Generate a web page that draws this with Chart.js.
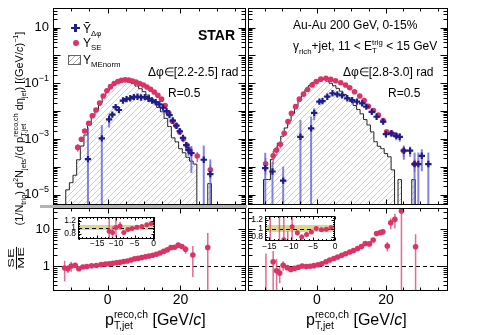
<!DOCTYPE html>
<html>
<head>
<meta charset="utf-8">
<script src="https://cdn.jsdelivr.net/npm/chart.js@4.4.1/dist/chart.umd.min.js"></script>
<style>
  body { margin: 0; background: #fff; }
  #fig { position: relative; width: 486px; height: 335px; overflow: hidden; font-family: "Liberation Sans", Arial, sans-serif; color: #000; }
  #fig canvas { position: absolute; left: 0; top: 0; }
  .t { position: absolute; white-space: nowrap; line-height: 1; font-size: 12px; }
  .t sub, .t sup { font-size: 65%; line-height: 0; }
  .st { display: inline-block; vertical-align: middle; font-size: 65%; line-height: 1.05; text-align: left; }
  .st span { display: block; }
  .mk { position: absolute; }
</style>
</head>
<body>
<div id="fig">
  <canvas id="topL" width="486" height="335"></canvas>
  <canvas id="topR" width="486" height="335"></canvas>
  <canvas id="ratL" width="486" height="335"></canvas>
  <canvas id="ratR" width="486" height="335"></canvas>
  <canvas id="insL" width="486" height="335"></canvas>
  <canvas id="insR" width="486" height="335"></canvas>

  <div class="mk" style="left:40px;top:205px;width:207px;height:3px;background:#b4b4b4"></div>

  <!-- legend -->
  <div class="mk" style="left:71px;top:26.8px;width:9px;height:2.4px;background:#1c1c8c"></div>
  <div class="mk" style="left:74.3px;top:23.7px;width:2.4px;height:8.6px;background:#1c1c8c"></div>
  <div class="mk" style="left:72.5px;top:40px;width:6px;height:6px;border-radius:50%;background:#dc3264"></div>
  <div class="mk" style="left:68px;top:55px;width:11px;height:8px;border:1px solid #666;background:repeating-linear-gradient(135deg,#aaa 0 0.8px,#fff 0.8px 4px)"></div>
  <div class="t" style="left:83px;top:22.5px">Ỹ<sub>Δφ</sub></div>
  <div class="t" style="left:83px;top:37px">Y<sub>SE</sub></div>
  <div class="t" style="left:83px;top:54px">Y<sub>MEnorm</sub></div>

  <div class="t" style="left:198px;top:28px;font-size:14px;font-weight:bold">STAR</div>
  <div class="t" style="left:148px;top:65.5px">Δφ∈[2.2-2.5] rad</div>
  <div class="t" style="left:168px;top:86.5px">R=0.5</div>

  <div class="t" style="left:293px;top:18.5px">Au-Au 200 GeV, 0-15%</div>
  <div class="t" style="left:293px;top:38.5px">γ<sub>rich</sub>+jet, 11 &lt; E<span class="st"><span>trig</span><span>T</span></span> &lt; 15 GeV</div>
  <div class="t" style="left:343px;top:65.5px">Δφ∈[2.8-3.0] rad</div>
  <div class="t" style="left:388px;top:86.5px">R=0.5</div>

  <!-- axis titles -->
  <div class="t" style="left:-100px;top:121px;width:240px;text-align:center;font-size:11px;transform:rotate(-90deg)">(1/N<sub>trig</sub>) d<sup>2</sup>N<sub>jets</sub>/(d p<span class="st"><span>reco,ch</span><span>T,jet</span></span> dη<sub>jet</sub>) [(GeV/<i>c</i>)<sup>−1</sup>]</div>
  <div class="t" style="left:9px;top:248.5px;width:14px;text-align:center;font-size:9px;line-height:0.95;transform:rotate(-90deg) scaleX(1.6)"><div style="border-bottom:1px solid #000">SE</div><div>ME</div></div>
  <div class="t" style="left:105px;top:310px;font-size:16px">p<span class="st"><span>reco,ch</span><span>T,jet</span></span> [GeV/<i>c</i>]</div>
  <div class="t" style="left:306px;top:310px;font-size:16px">p<span class="st"><span>reco,ch</span><span>T,jet</span></span> [GeV/<i>c</i>]</div>
</div>

<script>
// ---- Δφ ∈ [2.2-2.5] (left) ----
const leftSeX = [-8.2,-7.2,-6.3,-5.2,-4.2,-3.2,-2.2,-1.2,-0.2,0.8,1.8,2.8,3.8,4.8,5.8,6.8,7.8,8.8,9.8,10.8,11.8,12.8,13.8,14.8,15.8,16.8,17.8,18.8,19.8,20.8,21.8,22.6,24.6,28.2];
const leftSeY = [5.0e-4,9.8e-4,1.95e-3,3.7e-3,6.8e-3,1.1e-2,1.95e-2,3.5e-2,5.4e-2,7.6e-2,9.8e-2,0.115,0.128,0.133,0.130,0.121,0.110,0.098,0.087,0.074,0.061,0.049,0.037,0.027,0.016,8.5e-3,4.3e-3,3.0e-3,1.8e-3,1.0e-3,6.0e-4,4.0e-4,2.45e-4,7.8e-5];
const leftSeErr = [1.5e-4,2e-4,2.5e-4,3e-4,4e-4,5e-4,6e-4,8e-4,1e-3,1.2e-3,1.4e-3,1.5e-3,1.6e-3,1.6e-3,1.6e-3,1.5e-3,1.4e-3,1.3e-3,1.2e-3,1.1e-3,1e-3,9e-4,8e-4,6e-4,5e-4,4e-4,3e-4,4e-4,3e-4,2.5e-4,1.5e-4,1.2e-4,1.0e-4,4e-5];

const leftDphiX = [-5.4,-1.6,0.4,1.3,2.2,3.1,4.2,5.2,6.2,7.2,8.2,9.2,10.2,11.2,12.2,13.2,14.2,15.2,16.2,17.0,17.9,18.9,19.8,20.7,21.6,22.2,23.0,26.4,28.2];
const leftDphiY = [1.9e-4,1.05e-3,5.1e-3,7.5e-3,1.4e-2,1.1e-2,2.4e-2,2.7e-2,2.9e-2,3.2e-2,3.3e-2,3.1e-2,3.2e-2,2.8e-2,2.4e-2,2.1e-2,1.75e-2,1.35e-2,1.0e-2,7.2e-3,4.6e-3,3.0e-3,1.9e-3,1.1e-3,6.0e-4,4.0e-4,3.1e-4,1.8e-4,5.5e-5];
const leftDphiErr = [2.3e-3,2.1e-3,2.5e-3,1.5e-3,2.0e-3,1.5e-3,2.5e-3,2e-3,2e-3,2e-3,2e-3,2e-3,2e-3,1.8e-3,1.6e-3,1.4e-3,1.2e-3,1e-3,8e-4,7e-4,6e-4,5e-4,4e-4,3e-4,2e-4,1.5e-4,2.5e-4,4e-4,1.3e-4];

const leftMeX = [-12,-11,-10,-9,-8,-7,-6,-5,-4,-3,-2,-1,0,1,2,3,4,5,6,7,8,9,10,11,12,13,14,15,16,17,18,19,20,21,22,23,24,25,26,27,28,29];
const leftMeY = [1e-9,1.5e-5,2.7e-5,5.0e-5,1.8e-4,5.6e-4,1.4e-3,3.2e-3,6.3e-3,1.1e-2,2.0e-2,3.5e-2,5.6e-2,7.9e-2,0.100,0.117,0.126,0.123,0.112,0.098,0.080,0.064,0.050,0.038,0.028,0.020,0.0135,9.5e-3,5.5e-3,2.8e-3,1.1e-3,7.9e-4,4.5e-4,3.2e-4,2.2e-4,1.6e-4,1.26e-4,1e-9,1e-9,1e-9,2.5e-5,1e-9];

// ---- Δφ ∈ [2.8-3.0] (right) ----
const rightSeX = [-14.9,-12.7,-11.7,-10.6,-9.5,-8.4,-7.4,-6.2,-5.1,-3.9,-2.7,-1.4,-0.2,1.1,2.6,4.0,5.4,6.9,8.3,9.5,10.9,12.4,13.7,14.9,16.4,17.8,19.2,20.2,21.6,22.7,25.1,28.3];
const rightSeY = [1.3e-4,2.5e-4,4.0e-4,6.5e-4,1.6e-3,4.2e-3,8.3e-3,1.45e-2,2.7e-2,4.1e-2,6.0e-2,8.7e-2,0.115,0.141,0.151,0.138,0.123,0.105,0.087,0.069,0.050,0.035,0.024,0.015,0.0105,7.2e-3,4.6e-3,1.8e-3,1.6e-3,1.4e-3,3.8e-4,1.26e-4];
const rightSeErr = [8e-5,1.2e-4,1.5e-4,2e-4,3e-4,4e-4,5e-4,6e-4,8e-4,1e-3,1.2e-3,1.5e-3,1.6e-3,1.6e-3,1.6e-3,1.6e-3,1.5e-3,1.4e-3,1.3e-3,1.2e-3,1e-3,9e-4,8e-4,6e-4,5e-4,4e-4,3e-4,3e-4,3e-4,2.5e-4,1.5e-4,6e-5];

const rightDphiX = [-15.0,-12.9,-9.8,-4.8,-1.7,-0.8,0.7,1.6,3.0,4.5,5.9,7.3,8.8,10.2,11.6,13.1,14.3,15.9,17.3,19.2,20.0,21.6,23.0,24.0,25.2,27.0,28.3,29.4,30.4,32.3];
const rightDphiY = [9e-5,6.8e-5,3.2e-5,1.2e-3,2.4e-3,8.7e-3,2.2e-2,2.3e-2,3.3e-2,4.4e-2,4.0e-2,3.7e-2,2.9e-2,2.5e-2,2.2e-2,1.9e-2,1.45e-2,9.5e-3,6.3e-3,4.2e-3,1.5e-3,1.6e-3,1.3e-3,1.2e-3,3.8e-4,3.8e-4,1.26e-4,1.26e-4,2.5e-4,1.26e-4];
const rightDphiErr = [2.3e-4,8e-5,7e-5,3.6e-3,4e-3,4e-3,3e-3,2.5e-3,2.5e-3,2.5e-3,2.2e-3,2e-3,1.8e-3,1.6e-3,1.4e-3,1.2e-3,1e-3,8e-4,6e-4,5e-4,4e-4,4e-4,4e-4,4e-4,2e-4,1.5e-4,2e-4,2e-4,1.8e-4,2e-4];

const rightMeX = [-16,-15,-14,-13,-12,-11,-10,-9,-8,-7,-6,-5,-4,-3,-2,-1,0,1,2,3,4,5,6,7,8,9,10,11,12,13,14,15,16,17,18,19,20,21,22,23,24,25,26,27,28,29];
const rightMeY = [1e-9,3.5e-5,3.5e-5,1.86e-4,4.3e-4,7.1e-4,1.26e-3,2.5e-3,4.5e-3,8.3e-3,1.48e-2,2.5e-2,4.0e-2,6.0e-2,8.3e-2,0.108,0.128,0.140,0.137,0.120,0.100,0.082,0.066,0.052,0.040,0.030,0.022,0.016,0.0115,8.0e-3,5.0e-3,3.2e-3,1.8e-3,8.0e-4,5.5e-4,4.5e-4,3.0e-4,2.3e-4,7.8e-5,1e-9,3.5e-5,1e-9,1e-9,1e-9,3.5e-5,1e-9];

// ---- SE/ME ratios ----
const leftRatioX = [-11.8,-10.9,-10.0,-8.9,-7.9,-6.8,-5.7,-4.4,-3.1,-1.8,-0.6,0.4,1.4,2.4,3.4,4.4,5.4,6.4,7.4,8.4,9.4,10.4,11.4,12.4,13.4,14.4,15.4,16.4,17.4,18.4,19.4,20.4,21.4,23.4,27.5];
const leftRatioY = [0.88,0.84,1.0,1.05,0.84,0.94,0.97,1.01,1.03,1.09,1.13,1.15,1.18,1.22,1.27,1.32,1.37,1.45,1.58,1.63,1.7,1.78,1.86,1.96,2.08,2.25,2.5,2.75,3.2,3.25,3.7,3.4,2.85,2.0,3.2];
const leftRatioErr = [0.5,0.2,0.3,0.12,0.05,0.06,0.05,0.04,0.04,0.04,0.04,0.03,0.03,0.03,0.03,0.03,0.03,0.04,0.04,0.04,0.05,0.05,0.05,0.06,0.07,0.08,0.1,0.3,0.5,0.4,0.6,0.5,0.7,1.5,4.7];

const rightRatioX = [-14.8,-12.7,-11.7,-10.8,-9.8,-8.6,-7.6,-6.5,-5.4,-4.3,-3.1,-2.0,-0.9,0.3,1.4,2.6,3.7,4.9,6.0,7.2,8.3,9.5,10.6,11.8,12.9,14.0,15.2,16.3,17.3,18.4,19.1,20.4,21.4,22.6,24.5,28.6];
const rightRatioY = [0.1,1.31,0.74,0.64,1.04,0.9,0.8,0.86,0.92,1.0,0.97,0.98,1.02,1.08,1.15,1.3,1.45,1.6,1.75,1.95,2.15,2.4,2.65,3.0,3.4,4.1,4.0,5.1,7.7,8.1,8.6,3.5,15,18.6,31.6,3.36];
const rightRatioErr = [2.1,1.25,0.8,0.3,0.3,0.07,0.06,0.05,0.04,0.04,0.04,0.04,0.04,0.04,0.04,0.05,0.05,0.06,0.06,0.07,0.08,0.1,0.1,0.12,0.15,0.2,0.2,0.4,1.2,1.0,1.5,1.0,5,8,40,4];

// tick labels
const topTickVals = [10, 1e-1, 1e-3, 1e-5];
const topTickExps = ['', '−1', '−3', '−5'];
const ratioTickVals = [1, 10];
const xTickVals = [0, 20];
const insetXTickVals = [-15, -10, -5, 0];
const insetYTickVals = [0.8, 1, 1.2];
const insetBand = [0.92, 1.08];

const RED = '#dc3264', RED_ERR = 'rgba(222,80,125,0.85)';
const BLUE = '#1c1c8c', BLUE_ERR = 'rgba(90,90,215,0.75)';

Chart.defaults.font.family = '"Liberation Sans", Arial, sans-serif';

// diagonal hatch for the mixed-event histogram
function makeHatch() {
    const c = document.createElement('canvas');
    c.width = 6; c.height = 6;
    const g = c.getContext('2d');
    g.strokeStyle = '#b9b9b9';
    g.lineWidth = 0.7;
    g.beginPath();
    g.moveTo(0, 6); g.lineTo(6, 0);
    g.moveTo(-1, 1); g.lineTo(1, -1);
    g.moveTo(5, 7); g.lineTo(7, 5);
    g.stroke();
    return g.createPattern(c, 'repeat');
}
const hatch = makeHatch();

const pts = (xs, ys) => xs.map((x, i) => ({ x, y: ys[i] }));

function linTicks(min, max, major, minor, maj, mn) {
    const out = [];
    for (let k = Math.ceil(min / minor - 1e-9); k * minor <= max + 1e-9; k++) {
        const v = k * minor;
        const isMaj = Math.abs(v / major - Math.round(v / major)) < 1e-6;
        out.push([v, isMaj ? maj : mn]);
    }
    return out;
}
function logTicks(min, max, maj, mn) {
    const out = [];
    for (let d = Math.floor(Math.log10(min)); d <= Math.ceil(Math.log10(max)); d++) {
        for (let m = 1; m <= 9; m++) {
            const v = m * Math.pow(10, d);
            if (v >= min && v <= max) out.push([v, m === 1 ? maj : mn]);
        }
    }
    return out;
}
const fmt = v => (v < 0 ? '−' + Math.abs(v) : String(v));

// vertical error bars, drawn just under each dataset's markers
const errorBars = {
    id: 'errorBars',
    beforeDatasetDraw(chart, args) {
        const ds = chart.data.datasets[args.index];
        if (!ds.errs) return;
        const { ctx, chartArea: a, scales: { x, y } } = chart;
        ctx.save();
        ctx.beginPath();
        ctx.rect(a.left, a.top, a.width, a.height);
        ctx.clip();
        ctx.strokeStyle = ds.errColor;
        ctx.lineWidth = ds.errWidth;
        ds.data.forEach((p, i) => {
            const e = ds.errs[i];
            const px = x.getPixelForValue(p.x);
            const lo = p.y - e;
            const yLo = lo > 0 ? y.getPixelForValue(lo) : a.bottom;
            const yHi = y.getPixelForValue(p.y + e);
            ctx.beginPath();
            ctx.moveTo(px, yLo);
            ctx.lineTo(px, yHi);
            ctx.stroke();
        });
        ctx.restore();
    }
};

// ROOT-like frame: inward ticks on all sides, labels, unity line, band
const deco = {
    id: 'deco',
    beforeDatasetsDraw(chart, args, o) {
        const { ctx, chartArea: a, scales: { y } } = chart;
        ctx.save();
        if (o.bg) {
            ctx.fillStyle = o.bg;
            ctx.fillRect(a.left, a.top, a.width, a.height);
        }
        if (o.band) {
            const y1 = y.getPixelForValue(o.band[1]);
            const y0 = y.getPixelForValue(o.band[0]);
            ctx.fillStyle = 'rgba(200,200,90,0.7)';
            ctx.fillRect(a.left, y1, a.width, y0 - y1);
        }
        if (o.unity) {
            const py = Math.round(y.getPixelForValue(1)) + 0.5;
            ctx.strokeStyle = '#000';
            ctx.lineWidth = 1;
            ctx.setLineDash([4, 3]);
            ctx.beginPath();
            ctx.moveTo(a.left, py);
            ctx.lineTo(a.right, py);
            ctx.stroke();
        }
        ctx.restore();
    },
    afterDatasetsDraw(chart, args, o) {
        const { ctx, chartArea: a, scales: { x, y } } = chart;
        const L = Math.round(a.left) + 0.5, R = Math.round(a.right) - 0.5;
        const T = Math.round(a.top) + 0.5, B = Math.round(a.bottom) - 0.5;
        ctx.save();
        ctx.strokeStyle = '#000';
        ctx.lineWidth = 1;
        ctx.beginPath();
        linTicks(x.min, x.max, o.xMajor, o.xMinor, o.tMaj, o.tMin).forEach(([v, len]) => {
            const px = Math.round(x.getPixelForValue(v)) + 0.5;
            ctx.moveTo(px, B); ctx.lineTo(px, B - len);
            ctx.moveTo(px, T); ctx.lineTo(px, T + len);
        });
        const yt = o.log ? logTicks(y.min, y.max, o.tMaj + 2, o.tMin + 1)
                         : linTicks(y.min, y.max, o.yMajor, o.yMinor, o.tMaj, o.tMin);
        yt.forEach(([v, len]) => {
            const py = Math.round(y.getPixelForValue(v)) + 0.5;
            ctx.moveTo(L, py); ctx.lineTo(L + len, py);
            ctx.moveTo(R, py); ctx.lineTo(R - len, py);
        });
        ctx.stroke();
        ctx.strokeRect(L, T, R - L, B - T);

        ctx.fillStyle = '#000';
        ctx.textBaseline = 'middle';
        ctx.textAlign = 'left';
        (o.yVals || []).forEach((v, i) => {
            const py = y.getPixelForValue(v);
            const base = o.yBase || fmt(v);
            const exp = o.yExps ? o.yExps[i] : '';
            ctx.font = o.font;
            const wb = ctx.measureText(base).width;
            ctx.font = o.expFont || o.font;
            const we = exp ? ctx.measureText(exp).width : 0;
            const x0 = a.left - o.yGap - wb - we;
            ctx.font = o.font;
            ctx.fillText(base, x0, py);
            if (exp) {
                ctx.font = o.expFont;
                ctx.fillText(exp, x0 + wb, py - o.expRise);
            }
        });
        ctx.textAlign = 'center';
        ctx.font = o.xFont || o.font;
        (o.xVals || []).forEach(v => {
            ctx.fillText(fmt(v), x.getPixelForValue(v), a.bottom + o.xGap);
        });
        ctx.restore();
    }
};

function panel(id, frame, xr, yr, log, datasets, d) {
    const [l, t, r, b] = frame;
    return new Chart(document.getElementById(id), {
        type: 'scatter',
        data: { datasets },
        options: {
            responsive: false,
            animation: false,
            events: [],
            layout: { padding: { left: l, top: t, right: 486 - r, bottom: 335 - b } },
            plugins: { legend: { display: false }, tooltip: { enabled: false }, deco: d },
            scales: {
                x: { type: 'linear', min: xr[0], max: xr[1], display: false },
                y: { type: log ? 'logarithmic' : 'linear', min: yr[0], max: yr[1], display: false }
            }
        },
        plugins: [errorBars, deco]
    });
}

const histSet = (xs, ys) => ({
    type: 'line', data: pts(xs, ys), stepped: 'middle', fill: 'start',
    borderColor: '#222', borderWidth: 1, backgroundColor: hatch, pointRadius: 0, order: 3
});
const seSet = (xs, ys, es, r) => ({
    data: pts(xs, ys), pointStyle: 'circle', pointRadius: r, backgroundColor: RED, borderColor: RED,
    borderWidth: 0, errs: es, errColor: RED_ERR, errWidth: 1.5, order: 2
});
const dphiSet = (xs, ys, es) => ({
    data: pts(xs, ys), pointStyle: 'cross', pointRadius: 3.2, borderColor: BLUE,
    borderWidth: 2.2, errs: es, errColor: BLUE_ERR, errWidth: 2, order: 1
});

const topY = [4.27e-6, 50.6];
const ratioY = [0.208, 38.1];
const topDeco = { log: true, xMajor: 20, xMinor: 5, tMaj: 5, tMin: 3 };
const ratDeco = { log: true, xMajor: 20, xMinor: 5, tMaj: 5, tMin: 3, unity: true };
const insDeco = { xMajor: 5, xMinor: 1, yMajor: 0.2, yMinor: 0.05, tMaj: 3, tMin: 1.5, bg: '#fff', unity: true, band: insetBand,
    yVals: insetYTickVals, xVals: insetXTickVals, font: '8.5px "Liberation Sans"', yGap: 2, xGap: 4.5 };

panel('topL', [53, 8, 246, 205], [-15, 38], topY, true, [
    histSet(leftMeX, leftMeY), seSet(leftSeX, leftSeY, leftSeErr, 2.8), dphiSet(leftDphiX, leftDphiY, leftDphiErr)
], Object.assign({}, topDeco, { yVals: topTickVals, yExps: topTickExps, yBase: '10',
    font: '13px "Liberation Sans"', expFont: '9px "Liberation Sans"', expRise: 5, yGap: 4 }));

panel('topR', [248, 8, 448, 205], [-20, 38], topY, true, [
    histSet(rightMeX, rightMeY), seSet(rightSeX, rightSeY, rightSeErr, 2.8), dphiSet(rightDphiX, rightDphiY, rightDphiErr)
], topDeco);

panel('ratL', [53, 208, 246, 291], [-15, 38], ratioY, true, [
    seSet(leftRatioX, leftRatioY, leftRatioErr, 2.8)
], Object.assign({}, ratDeco, { yVals: ratioTickVals, xVals: xTickVals, font: '13px "Liberation Sans"',
    xFont: '14px "Liberation Sans"', yGap: 3, xGap: 9 }));

panel('ratR', [248, 208, 448, 291], [-20, 38], ratioY, true, [
    seSet(rightRatioX, rightRatioY, rightRatioErr, 2.8)
], Object.assign({}, ratDeco, { xVals: xTickVals, font: '14px "Liberation Sans"', xGap: 9 }));

panel('insL', [78, 217, 155, 239], [-20.1, 0.4], [0.64, 1.33], false, [
    seSet(leftRatioX, leftRatioY, leftRatioErr, 2.5)
], insDeco);

panel('insR', [265, 216, 335, 241], [-16, 0], [0.71, 1.29], false, [
    seSet(rightRatioX, rightRatioY, rightRatioErr, 2.5)
], Object.assign({}, insDeco, { xGap: 5.5 }));
</script>
</body>
</html>
